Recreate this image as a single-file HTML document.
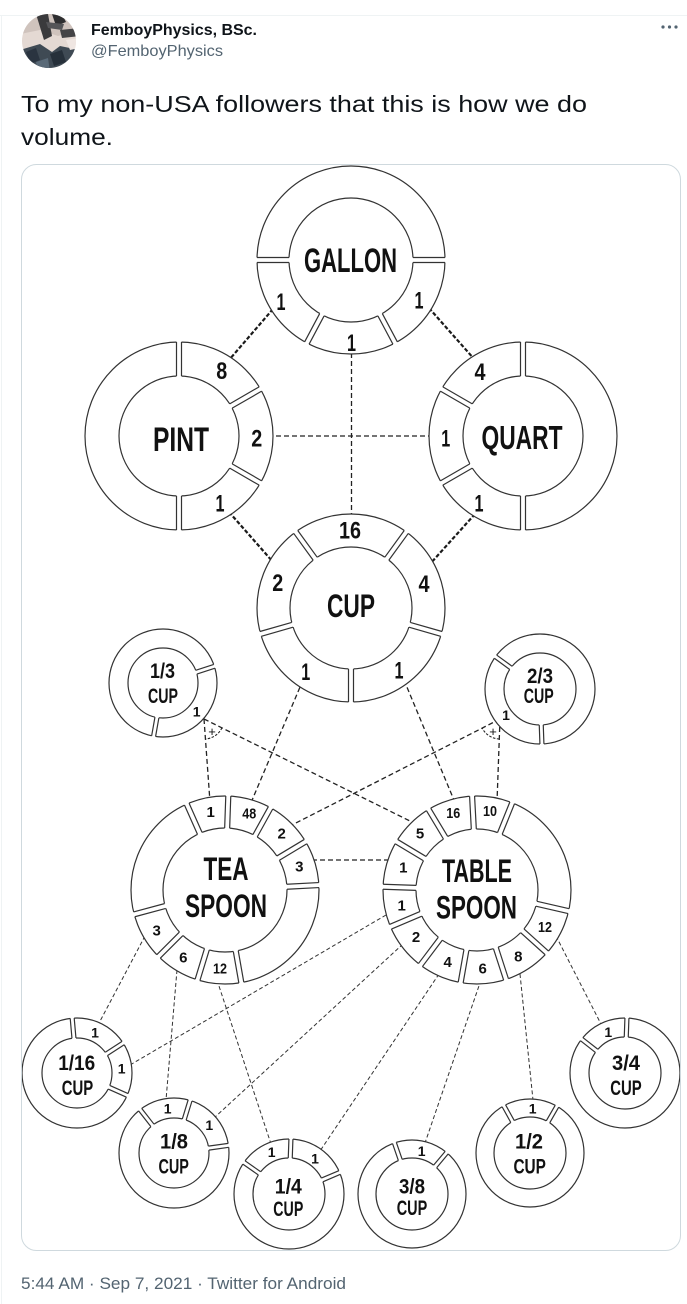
<!DOCTYPE html>
<html>
<head>
<meta charset="utf-8">
<style>
html,body{margin:0;padding:0;background:#fff;}
svg{display:block;}
.rg circle{fill:#fff;stroke:#333;stroke-width:1.2;}
.rg rect{fill:#fff;stroke:none;}
.rg path{fill:none;stroke:#333;stroke-width:1.2;}
.t{font-family:"Liberation Sans Narrow","Liberation Sans",sans-serif;font-weight:700;fill:#111;text-anchor:middle;}
.ck{fill:none;stroke:#1a1a1a;stroke-width:2.2;stroke-dasharray:4 2;}
.cm{fill:none;stroke:#222;stroke-width:1.3;stroke-dasharray:5 3;}
.cn{fill:none;stroke:#333;stroke-width:1;stroke-dasharray:4 2.5;}
.hd{font-family:"Liberation Sans",sans-serif;}
</style>
</head>
<body>
<svg width="687" height="1304" viewBox="0 0 687 1304" xmlns="http://www.w3.org/2000/svg">
<defs>
<clipPath id="av"><circle cx="49" cy="41" r="27"/></clipPath>
<clipPath id="card"><rect x="21.5" y="164.5" width="659" height="1086" rx="15"/></clipPath>
</defs>

<line x1="0" y1="15.5" x2="687" y2="15.5" stroke="#eff3f4" stroke-width="1"/>
<line x1="1.5" y1="15" x2="1.5" y2="1304" stroke="#eff3f4" stroke-width="1"/>

<g clip-path="url(#av)">
<rect x="20" y="12" width="60" height="60" fill="#e4d9d3"/>
<path d="M20 14 L80 14 L80 30 L58 36 L40 30 L20 34 Z" fill="#cfc3bd"/>
<path d="M36 14 L48 14 L52 36 L44 40 Z" fill="#3a3a3c"/>
<path d="M52 14 L62 14 L66 22 L56 26 Z" fill="#2e2e30"/>
<path d="M46 22 L64 24 L62 30 L48 28 Z" fill="#555558"/>
<path d="M60 30 L80 28 L80 36 L62 38 Z" fill="#444446"/>
<path d="M20 50 L40 44 L52 52 L60 46 L80 50 L80 72 L20 72 Z" fill="#3f4a54"/>
<path d="M26 52 L36 48 L40 60 L30 64 Z" fill="#2a3440"/>
<path d="M50 54 L62 50 L66 62 L54 66 Z" fill="#26303a"/>
<path d="M36 62 L48 58 L50 72 L38 72 Z" fill="#5a6a78"/>
<path d="M66 40 L80 38 L80 48 L70 50 Z" fill="#efe6e2"/>
</g>

<text class="hd" x="91" y="35" font-size="16" font-weight="700" fill="#0f1419" textLength="166" lengthAdjust="spacingAndGlyphs">FemboyPhysics, BSc.</text>
<text class="hd" x="91" y="56" font-size="16" fill="#536471" textLength="132" lengthAdjust="spacingAndGlyphs">@FemboyPhysics</text>
<circle cx="663" cy="27" r="1.6" fill="#536471"/>
<circle cx="669.5" cy="27" r="1.6" fill="#536471"/>
<circle cx="676" cy="27" r="1.6" fill="#536471"/>

<text class="hd" x="21" y="112" font-size="23" fill="#0f1419" textLength="566" lengthAdjust="spacingAndGlyphs">To my non-USA followers that this is how we do</text>
<text class="hd" x="21" y="145" font-size="23" fill="#0f1419" textLength="92" lengthAdjust="spacingAndGlyphs">volume.</text>

<g clip-path="url(#card)">
<rect x="21" y="164" width="660" height="1087" fill="#fff"/>

<path class="ck" d="M273 309 L229 360"/>
<path class="ck" d="M429 308 L475 360"/>
<path class="ck" d="M229 512 L273 562"/>
<path class="ck" d="M475 514 L430 564"/>

<path class="cm" d="M351.5 345 V520"/>
<path class="cm" d="M268 436 H434"/>
<path class="cm" d="M303 680 L250 805"/>
<path class="cm" d="M404 680 L456 805"/>
<path class="cm" d="M204 719 L210 802"/>
<path class="cm" d="M204 719 L414 823"/>
<path class="cm" d="M500 719 L288 827"/>
<path class="cm" d="M500 719 L497 802"/>
<path class="cm" d="M312 860 H390"/>

<path d="M222 727.8 A20 20 0 0 1 205.4 739" fill="none" stroke="#222" stroke-width="1.1" stroke-dasharray="2.5 1.5"/>
<path d="M499.3 739 A20 20 0 0 1 482.2 728.1" fill="none" stroke="#222" stroke-width="1.1" stroke-dasharray="2.5 1.5"/>
<text x="212" y="736" font-family="Liberation Sans, sans-serif" font-size="13" fill="#111" text-anchor="middle">+</text>
<text x="493" y="736" font-family="Liberation Sans, sans-serif" font-size="13" fill="#111" text-anchor="middle">+</text>

<path class="cn" d="M145 936 L98 1025"/>
<path class="cn" d="M177 970 L166 1100"/>
<path class="cn" d="M217 980 L271 1144"/>
<path class="cn" d="M386 915 L130 1065"/>
<path class="cn" d="M403 944 L214 1118"/>
<path class="cn" d="M439 974 L320 1151"/>
<path class="cn" d="M481 980 L425 1143"/>
<path class="cn" d="M520 974 L533 1100"/>
<path class="cn" d="M556 936 L602 1026"/>

<g class="rg" transform="translate(351 260)">
<circle r="94"/><circle r="62"/>
<g transform="rotate(0)"><rect x="60" y="-2.5" width="36" height="5"/><path d="M62 -2.5H94M62 2.5H94"/></g>
<g transform="rotate(62)"><rect x="60" y="-2.5" width="36" height="5"/><path d="M62 -2.5H94M62 2.5H94"/></g>
<g transform="rotate(118)"><rect x="60" y="-2.5" width="36" height="5"/><path d="M62 -2.5H94M62 2.5H94"/></g>
<g transform="rotate(180)"><rect x="60" y="-2.5" width="36" height="5"/><path d="M62 -2.5H94M62 2.5H94"/></g>
</g>

<g class="rg" transform="translate(179 436)">
<circle r="94"/><circle r="60"/>
<g transform="rotate(-90)"><rect x="58" y="-2.5" width="38" height="5"/><path d="M60 -2.5H94M60 2.5H94"/></g>
<g transform="rotate(-30)"><rect x="58" y="-2.5" width="38" height="5"/><path d="M60 -2.5H94M60 2.5H94"/></g>
<g transform="rotate(30)"><rect x="58" y="-2.5" width="38" height="5"/><path d="M60 -2.5H94M60 2.5H94"/></g>
<g transform="rotate(90)"><rect x="58" y="-2.5" width="38" height="5"/><path d="M60 -2.5H94M60 2.5H94"/></g>
</g>

<g class="rg" transform="translate(523 436)">
<circle r="94"/><circle r="60"/>
<g transform="rotate(-90)"><rect x="58" y="-2.5" width="38" height="5"/><path d="M60 -2.5H94M60 2.5H94"/></g>
<g transform="rotate(-150)"><rect x="58" y="-2.5" width="38" height="5"/><path d="M60 -2.5H94M60 2.5H94"/></g>
<g transform="rotate(150)"><rect x="58" y="-2.5" width="38" height="5"/><path d="M60 -2.5H94M60 2.5H94"/></g>
<g transform="rotate(90)"><rect x="58" y="-2.5" width="38" height="5"/><path d="M60 -2.5H94M60 2.5H94"/></g>
</g>

<g class="rg" transform="translate(351 608)">
<circle r="94"/><circle r="61"/>
<g transform="rotate(-126)"><rect x="59" y="-2.5" width="37" height="5"/><path d="M61 -2.5H94M61 2.5H94"/></g>
<g transform="rotate(-54)"><rect x="59" y="-2.5" width="37" height="5"/><path d="M61 -2.5H94M61 2.5H94"/></g>
<g transform="rotate(16)"><rect x="59" y="-2.5" width="37" height="5"/><path d="M61 -2.5H94M61 2.5H94"/></g>
<g transform="rotate(90)"><rect x="59" y="-2.5" width="37" height="5"/><path d="M61 -2.5H94M61 2.5H94"/></g>
<g transform="rotate(164)"><rect x="59" y="-2.5" width="37" height="5"/><path d="M61 -2.5H94M61 2.5H94"/></g>
</g>

<g class="rg" transform="translate(225 890)">
<circle r="94"/><circle r="62"/>
<g transform="rotate(-114)"><rect x="60" y="-2.5" width="36" height="5"/><path d="M62 -2.5H94M62 2.5H94"/></g>
<g transform="rotate(-88)"><rect x="60" y="-2.5" width="36" height="5"/><path d="M62 -2.5H94M62 2.5H94"/></g>
<g transform="rotate(-61)"><rect x="60" y="-2.5" width="36" height="5"/><path d="M62 -2.5H94M62 2.5H94"/></g>
<g transform="rotate(-31)"><rect x="60" y="-2.5" width="36" height="5"/><path d="M62 -2.5H94M62 2.5H94"/></g>
<g transform="rotate(-3)"><rect x="60" y="-2.5" width="36" height="5"/><path d="M62 -2.5H94M62 2.5H94"/></g>
<g transform="rotate(80)"><rect x="60" y="-2.5" width="36" height="5"/><path d="M62 -2.5H94M62 2.5H94"/></g>
<g transform="rotate(107)"><rect x="60" y="-2.5" width="36" height="5"/><path d="M62 -2.5H94M62 2.5H94"/></g>
<g transform="rotate(135)"><rect x="60" y="-2.5" width="36" height="5"/><path d="M62 -2.5H94M62 2.5H94"/></g>
<g transform="rotate(165)"><rect x="60" y="-2.5" width="36" height="5"/><path d="M62 -2.5H94M62 2.5H94"/></g>
</g>

<g class="rg" transform="translate(477 890)">
<circle r="94"/><circle r="61"/>
<g transform="rotate(-68)"><rect x="59" y="-2.5" width="37" height="5"/><path d="M61 -2.5H94M61 2.5H94"/></g>
<g transform="rotate(13)"><rect x="59" y="-2.5" width="37" height="5"/><path d="M61 -2.5H94M61 2.5H94"/></g>
<g transform="rotate(42)"><rect x="59" y="-2.5" width="37" height="5"/><path d="M61 -2.5H94M61 2.5H94"/></g>
<g transform="rotate(72)"><rect x="59" y="-2.5" width="37" height="5"/><path d="M61 -2.5H94M61 2.5H94"/></g>
<g transform="rotate(100)"><rect x="59" y="-2.5" width="37" height="5"/><path d="M61 -2.5H94M61 2.5H94"/></g>
<g transform="rotate(127)"><rect x="59" y="-2.5" width="37" height="5"/><path d="M61 -2.5H94M61 2.5H94"/></g>
<g transform="rotate(157)"><rect x="59" y="-2.5" width="37" height="5"/><path d="M61 -2.5H94M61 2.5H94"/></g>
<g transform="rotate(182)"><rect x="59" y="-2.5" width="37" height="5"/><path d="M61 -2.5H94M61 2.5H94"/></g>
<g transform="rotate(211)"><rect x="59" y="-2.5" width="37" height="5"/><path d="M61 -2.5H94M61 2.5H94"/></g>
<g transform="rotate(239)"><rect x="59" y="-2.5" width="37" height="5"/><path d="M61 -2.5H94M61 2.5H94"/></g>
<g transform="rotate(267)"><rect x="59" y="-2.5" width="37" height="5"/><path d="M61 -2.5H94M61 2.5H94"/></g>
</g>

<g class="rg" transform="translate(163 683)">
<circle r="54"/><circle r="35"/>
<g transform="rotate(-18)"><rect x="33" y="-2" width="23" height="4"/><path d="M35 -2H54M35 2H54"/></g>
<g transform="rotate(100)"><rect x="33" y="-2" width="23" height="4"/><path d="M35 -2H54M35 2H54"/></g>
</g>

<g class="rg" transform="translate(540 689)">
<circle r="55"/><circle r="36"/>
<g transform="rotate(88)"><rect x="34" y="-2" width="23" height="4"/><path d="M36 -2H55M36 2H55"/></g>
<g transform="rotate(216)"><rect x="34" y="-2" width="23" height="4"/><path d="M36 -2H55M36 2H55"/></g>
</g>

<g class="rg" transform="translate(77 1073)">
<circle r="55"/><circle r="35"/>
<g transform="rotate(-95)"><rect x="33" y="-2" width="24" height="4"/><path d="M35 -2H55M35 2H55"/></g>
<g transform="rotate(-33)"><rect x="33" y="-2" width="24" height="4"/><path d="M35 -2H55M35 2H55"/></g>
<g transform="rotate(24)"><rect x="33" y="-2" width="24" height="4"/><path d="M35 -2H55M35 2H55"/></g>
</g>

<g class="rg" transform="translate(174 1153)">
<circle r="55"/><circle r="35"/>
<g transform="rotate(-128)"><rect x="33" y="-2" width="24" height="4"/><path d="M35 -2H55M35 2H55"/></g>
<g transform="rotate(-73)"><rect x="33" y="-2" width="24" height="4"/><path d="M35 -2H55M35 2H55"/></g>
<g transform="rotate(-8)"><rect x="33" y="-2" width="24" height="4"/><path d="M35 -2H55M35 2H55"/></g>
</g>

<g class="rg" transform="translate(289 1194)">
<circle r="55"/><circle r="36"/>
<g transform="rotate(-145)"><rect x="34" y="-2" width="23" height="4"/><path d="M36 -2H55M36 2H55"/></g>
<g transform="rotate(-88)"><rect x="34" y="-2" width="23" height="4"/><path d="M36 -2H55M36 2H55"/></g>
<g transform="rotate(-23)"><rect x="34" y="-2" width="23" height="4"/><path d="M36 -2H55M36 2H55"/></g>
</g>

<g class="rg" transform="translate(412 1194)">
<circle r="54"/><circle r="36"/>
<g transform="rotate(-109)"><rect x="34" y="-2" width="22" height="4"/><path d="M36 -2H54M36 2H54"/></g>
<g transform="rotate(-50)"><rect x="34" y="-2" width="22" height="4"/><path d="M36 -2H54M36 2H54"/></g>
</g>

<g class="rg" transform="translate(530 1153)">
<circle r="54"/><circle r="36"/>
<g transform="rotate(-119)"><rect x="34" y="-2" width="22" height="4"/><path d="M36 -2H54M36 2H54"/></g>
<g transform="rotate(-60)"><rect x="34" y="-2" width="22" height="4"/><path d="M36 -2H54M36 2H54"/></g>
</g>

<g class="rg" transform="translate(625 1073)">
<circle r="55"/><circle r="36"/>
<g transform="rotate(-142)"><rect x="34" y="-2" width="23" height="4"/><path d="M36 -2H55M36 2H55"/></g>
<g transform="rotate(-88)"><rect x="34" y="-2" width="23" height="4"/><path d="M36 -2H55M36 2H55"/></g>
</g>

<text class="t" x="350.5" y="272" font-size="34" textLength="93" lengthAdjust="spacingAndGlyphs">GALLON</text>
<text class="t" x="181" y="451" font-size="34" textLength="56" lengthAdjust="spacingAndGlyphs">PINT</text>
<text class="t" x="522" y="449" font-size="33" textLength="81" lengthAdjust="spacingAndGlyphs">QUART</text>
<text class="t" x="351" y="617" font-size="32" textLength="48" lengthAdjust="spacingAndGlyphs">CUP</text>
<text class="t" x="226" y="880" font-size="32" textLength="45" lengthAdjust="spacingAndGlyphs">TEA</text>
<text class="t" x="226" y="917" font-size="32" textLength="82" lengthAdjust="spacingAndGlyphs">SPOON</text>
<text class="t" x="477" y="882" font-size="32" textLength="70" lengthAdjust="spacingAndGlyphs">TABLE</text>
<text class="t" x="476.5" y="918.5" font-size="32" textLength="81" lengthAdjust="spacingAndGlyphs">SPOON</text>

<g class="t" font-size="24">
<text x="281" y="310" textLength="9" lengthAdjust="spacingAndGlyphs">1</text>
<text x="419" y="308.5" textLength="9" lengthAdjust="spacingAndGlyphs">1</text>
<text x="351.5" y="351" textLength="9" lengthAdjust="spacingAndGlyphs">1</text>
<text x="221.7" y="379" textLength="11" lengthAdjust="spacingAndGlyphs">8</text>
<text x="256.7" y="446.5" textLength="11" lengthAdjust="spacingAndGlyphs">2</text>
<text x="220" y="511.5" textLength="9" lengthAdjust="spacingAndGlyphs">1</text>
<text x="480" y="380" textLength="11" lengthAdjust="spacingAndGlyphs">4</text>
<text x="445.7" y="446.5" textLength="9" lengthAdjust="spacingAndGlyphs">1</text>
<text x="479" y="511.5" textLength="9" lengthAdjust="spacingAndGlyphs">1</text>
<text x="350" y="538.5" textLength="22" lengthAdjust="spacingAndGlyphs">16</text>
<text x="277.7" y="591" textLength="11" lengthAdjust="spacingAndGlyphs">2</text>
<text x="424" y="592" textLength="11" lengthAdjust="spacingAndGlyphs">4</text>
<text x="305.7" y="680" textLength="9" lengthAdjust="spacingAndGlyphs">1</text>
<text x="399" y="678.5" textLength="9" lengthAdjust="spacingAndGlyphs">1</text>
</g>

<g class="t" font-size="15">
<text x="210.7" y="817">1</text>
<text x="249.3" y="818.7" textLength="14" lengthAdjust="spacingAndGlyphs">48</text>
<text x="281.7" y="838.7">2</text>
<text x="299.3" y="871.4">3</text>
<text x="156.7" y="935.4">3</text>
<text x="183.3" y="962.7">6</text>
<text x="220" y="973.7" textLength="14" lengthAdjust="spacingAndGlyphs">12</text>
<text x="453.3" y="818" textLength="14" lengthAdjust="spacingAndGlyphs">16</text>
<text x="490" y="816" textLength="14" lengthAdjust="spacingAndGlyphs">10</text>
<text x="420" y="838.7">5</text>
<text x="403.3" y="872.7">1</text>
<text x="401.7" y="910.4">1</text>
<text x="416" y="942">2</text>
<text x="447.7" y="967">4</text>
<text x="482.7" y="973.7">6</text>
<text x="518.3" y="961.4">8</text>
<text x="545" y="932" textLength="14" lengthAdjust="spacingAndGlyphs">12</text>
</g>

<g class="t" font-size="14">
<text x="196.7" y="716.5">1</text>
<text x="506" y="720">1</text>
<text x="95" y="1037.5">1</text>
<text x="121.7" y="1073.5">1</text>
<text x="167.7" y="1113.5">1</text>
<text x="209.3" y="1130">1</text>
<text x="271.7" y="1157">1</text>
<text x="315" y="1163.5">1</text>
<text x="421.7" y="1156">1</text>
<text x="532.7" y="1113.5">1</text>
<text x="608.3" y="1037">1</text>
</g>

<g class="t" font-size="21">
<text x="162.5" y="678" textLength="25" lengthAdjust="spacingAndGlyphs">1/3</text>
<text x="163" y="703" textLength="30" lengthAdjust="spacingAndGlyphs">CUP</text>
<text x="540" y="683" textLength="26" lengthAdjust="spacingAndGlyphs">2/3</text>
<text x="538.7" y="703" textLength="30" lengthAdjust="spacingAndGlyphs">CUP</text>
<text x="76.7" y="1070" textLength="37" lengthAdjust="spacingAndGlyphs">1/16</text>
<text x="77.5" y="1095" textLength="31.5" lengthAdjust="spacingAndGlyphs">CUP</text>
<text x="174" y="1148.3" textLength="28" lengthAdjust="spacingAndGlyphs">1/8</text>
<text x="173.7" y="1173.3" textLength="30.5" lengthAdjust="spacingAndGlyphs">CUP</text>
<text x="288.3" y="1193.3" textLength="27" lengthAdjust="spacingAndGlyphs">1/4</text>
<text x="288.3" y="1216" textLength="30" lengthAdjust="spacingAndGlyphs">CUP</text>
<text x="412" y="1193.3" textLength="26" lengthAdjust="spacingAndGlyphs">3/8</text>
<text x="412" y="1215" textLength="30.5" lengthAdjust="spacingAndGlyphs">CUP</text>
<text x="529" y="1148.3" textLength="28" lengthAdjust="spacingAndGlyphs">1/2</text>
<text x="529.7" y="1173.3" textLength="32.5" lengthAdjust="spacingAndGlyphs">CUP</text>
<text x="626" y="1070" textLength="28" lengthAdjust="spacingAndGlyphs">3/4</text>
<text x="626" y="1095" textLength="31.5" lengthAdjust="spacingAndGlyphs">CUP</text>
</g>
</g>

<rect x="21.5" y="164.5" width="659" height="1086" rx="15" fill="none" stroke="#cfd9de" stroke-width="1"/>

<text class="hd" x="21" y="1289" font-size="17" fill="#536471" textLength="325" lengthAdjust="spacingAndGlyphs">5:44 AM · Sep 7, 2021 · Twitter for Android</text>
</svg>
</body>
</html>
